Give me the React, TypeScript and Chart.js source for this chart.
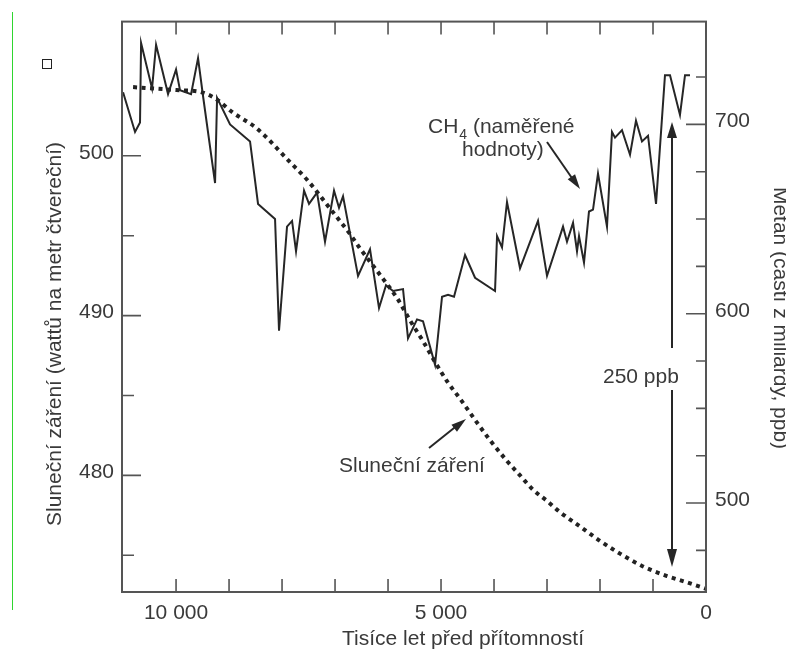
import React, { useEffect, useRef } from "react";
import { Chart, registerables } from "chart.js";

Chart.register(...registerables);

// Methane (CH4) measured values, ppb, by years before present
const ch4Years = [11000, 10774, 10680, 10660, 10453, 10377, 10151, 10000, 9925, 9717, 9585, 9491, 9264, 9226, 8981, 8604, 8453, 8132, 8057, 7906, 7811, 7736, 7585, 7491, 7340, 7189, 7019, 6925, 6849, 6566, 6340, 6170, 6038, 5906, 5717, 5623, 5453, 5340, 5113, 4981, 4868, 4755, 4547, 4358, 3981, 3943, 3849, 3755, 3509, 3170, 3000, 2698, 2623, 2509, 2434, 2396, 2302, 2208, 2132, 2038, 1868, 1774, 1717, 1585, 1434, 1321, 1208, 1094, 943, 774, 679, 491, 396, 302];
const ch4Values = [717, 696, 701, 743, 719, 742, 716, 729, 718, 716, 735, 715, 669, 714, 700, 691, 658, 650, 591, 646, 649, 633, 665, 658, 664, 638, 665, 656, 662, 620, 634, 603, 615, 612, 613, 587, 597, 596, 573, 609, 610, 609, 631, 619, 612, 641, 635, 659, 624, 649, 620, 646, 638, 648, 633, 641, 627, 654, 655, 674, 646, 696, 693, 697, 684, 702, 691, 694, 658, 726, 726, 705, 726, 726];

// Solar radiation, W/m2
const solarYears = [10811, 9925, 9547, 9264, 8925, 8472, 7849, 7528, 7094, 6717, 6528, 6094, 5830, 5585, 5340, 5113, 4868, 4642, 4321, 4075, 3755, 3509, 3264, 3000, 2755, 2377, 2000, 1623, 1189, 736, 358, 0];
const solarValues = [504.3, 504.1, 504.0, 503.6, 502.7, 501.7, 499.6, 498.5, 496.7, 495.1, 494.2, 492.3, 491.1, 489.7, 488.4, 487.1, 485.8, 484.8, 483.3, 482.2, 480.9, 480.0, 479.1, 478.4, 477.7, 476.8, 475.9, 475.1, 474.3, 473.7, 473.3, 472.9];

// Ticks
const xLabelTicks = [10000, 5000, 0];
const xMarkTicks = [0, 1000, 2000, 3000, 4000, 5000, 6000, 7000, 8000, 9000, 10000];
const leftLabelTicks = [480, 490, 500];
const leftMinorTicks = [475, 485, 495];
const rightLabelTicks = [500, 600, 700];
const rightMinorTicks = [475, 525, 550, 575, 625, 650, 675, 725];

const TEXT = "#3a3a3a";
const LINE = "#262626";
const AXIS = "#555555";
const FONT_FAMILY = '"Liberation Sans", Arial, sans-serif';

function fmt(v: number): string {
  const s = String(Math.round(v));
  return s.replace(/\B(?=(\d{3})+(?!\d))/g, " ");
}

function arrowHead(ctx: CanvasRenderingContext2D, x1: number, y1: number, x2: number, y2: number, len: number, half: number) {
  const ang = Math.atan2(y2 - y1, x2 - x1);
  const bx = x2 - len * Math.cos(ang);
  const by = y2 - len * Math.sin(ang);
  ctx.beginPath();
  ctx.moveTo(x2, y2);
  ctx.lineTo(bx + half * Math.sin(ang), by - half * Math.cos(ang));
  ctx.lineTo(bx - half * Math.sin(ang), by + half * Math.cos(ang));
  ctx.closePath();
  ctx.fill();
}

const overlayPlugin = {
  id: "overlay",
  afterDatasetsDraw(chart: any) {
    const { ctx, chartArea: a, scales } = chart;
    const x = scales.x;
    const yL = scales.yL;
    const yR = scales.yR;
    ctx.save();
    // frame
    ctx.strokeStyle = AXIS;
    ctx.lineWidth = 2;
    ctx.strokeRect(a.left, a.top, a.right - a.left, a.bottom - a.top);
    // inward ticks
    ctx.lineWidth = 1.6;
    ctx.beginPath();
    xMarkTicks.forEach((v) => {
      const px = x.getPixelForValue(v);
      ctx.moveTo(px, a.bottom);
      ctx.lineTo(px, a.bottom - 13);
      ctx.moveTo(px, a.top);
      ctx.lineTo(px, a.top + 13);
    });
    leftLabelTicks.forEach((v) => {
      const py = yL.getPixelForValue(v);
      ctx.moveTo(a.left, py);
      ctx.lineTo(a.left + 19, py);
    });
    leftMinorTicks.forEach((v) => {
      const py = yL.getPixelForValue(v);
      ctx.moveTo(a.left, py);
      ctx.lineTo(a.left + 12, py);
    });
    rightLabelTicks.forEach((v) => {
      const py = yR.getPixelForValue(v);
      ctx.moveTo(a.right, py);
      ctx.lineTo(a.right - 20, py);
    });
    rightMinorTicks.forEach((v) => {
      const py = yR.getPixelForValue(v);
      ctx.moveTo(a.right, py);
      ctx.lineTo(a.right - 10, py);
    });
    ctx.stroke();

    // titles
    ctx.fillStyle = TEXT;
    ctx.font = `21px ${FONT_FAMILY}`;
    ctx.textAlign = "center";
    ctx.textBaseline = "alphabetic";
    ctx.fillText("Tisíce let před přítomností", 463, 645);

    ctx.save();
    ctx.translate(61, 334);
    ctx.rotate(-Math.PI / 2);
    ctx.fillText("Sluneční záření (wattů na metr čtvereční)", 0, 0);
    ctx.restore();

    ctx.save();
    ctx.translate(774, 318);
    ctx.rotate(Math.PI / 2);
    ctx.fillText("Metan (částí z miliardy, ppb)", 0, 0);
    ctx.restore();

    // annotations
    ctx.textAlign = "left";
    let tx = 428;
    ctx.fillText("CH", tx, 133);
    tx += ctx.measureText("CH").width;
    ctx.font = `14px ${FONT_FAMILY}`;
    ctx.fillText("4", tx + 1, 139);
    tx += ctx.measureText("4").width + 1;
    ctx.font = `21px ${FONT_FAMILY}`;
    ctx.fillText(" (naměřené", tx, 133);
    ctx.fillText("hodnoty)", 462, 156);

    ctx.fillText("Sluneční záření", 339, 472);
    ctx.fillText("250 ppb", 603, 383);

    ctx.strokeStyle = LINE;
    ctx.fillStyle = LINE;
    ctx.lineWidth = 2;
    // CH4 arrow
    ctx.beginPath();
    ctx.moveTo(547, 142);
    ctx.lineTo(574, 181);
    ctx.stroke();
    arrowHead(ctx, 547, 142, 580, 189, 15, 4.5);
    // solar arrow
    ctx.beginPath();
    ctx.moveTo(429, 448);
    ctx.lineTo(459, 424);
    ctx.stroke();
    arrowHead(ctx, 429, 448, 466, 419, 15, 4.5);
    // 250 ppb arrow
    ctx.beginPath();
    ctx.moveTo(672, 134);
    ctx.lineTo(672, 348);
    ctx.moveTo(672, 390);
    ctx.lineTo(672, 555);
    ctx.stroke();
    arrowHead(ctx, 672, 200, 672, 122, 16, 5);
    arrowHead(ctx, 672, 500, 672, 567, 18, 5);
    ctx.restore();
  },
};

export default function App() {
  const ref = useRef<HTMLCanvasElement>(null);

  useEffect(() => {
    const canvas = ref.current;
    if (!canvas) return;
    const tickFont = { family: FONT_FAMILY, size: 21 };
    const chart = new Chart(canvas, {
      type: "line",
      data: {
        datasets: [
          {
            label: "CH4",
            data: ch4Years.map((yr, i) => ({ x: yr, y: ch4Values[i] })),
            yAxisID: "yR",
            borderColor: LINE,
            borderWidth: 2,
            pointRadius: 0,
            tension: 0,
            fill: false,
          },
          {
            label: "Sluneční záření",
            data: solarYears.map((yr, i) => ({ x: yr, y: solarValues[i] })),
            yAxisID: "yL",
            borderColor: "#222222",
            borderWidth: 4,
            borderDash: [4, 4.5],
            borderCapStyle: "butt",
            pointRadius: 0,
            cubicInterpolationMode: "monotone",
            fill: false,
          },
        ],
      },
      options: {
        responsive: false,
        animation: false,
        devicePixelRatio: 1,
        layout: { padding: { top: 15, left: 0, right: 0, bottom: 0 } },
        plugins: {
          legend: { display: false },
          tooltip: { enabled: false },
        },
        scales: {
          x: {
            type: "linear",
            position: "bottom",
            reverse: true,
            min: 0,
            max: 11020,
            grid: { display: false, drawTicks: false },
            border: { display: false },
            afterBuildTicks: (s: any) => {
              s.ticks = xLabelTicks.map((v) => ({ value: v }));
            },
            afterFit: (s: any) => {
              s.height = 70;
            },
            ticks: {
              font: tickFont,
              color: TEXT,
              padding: 9,
              autoSkip: false,
              maxRotation: 0,
              callback: (v: any) => fmt(Number(v)),
            },
          },
          yL: {
            type: "linear",
            position: "left",
            min: 472.7,
            max: 508.4,
            grid: { display: false, drawTicks: false },
            border: { display: false },
            afterBuildTicks: (s: any) => {
              s.ticks = leftLabelTicks.map((v) => ({ value: v }));
            },
            afterFit: (s: any) => {
              s.width = 122;
            },
            ticks: {
              font: tickFont,
              color: TEXT,
              padding: 8,
              labelOffset: -3,
              autoSkip: false,
              callback: (v: any) => String(v),
            },
          },
          yR: {
            type: "linear",
            position: "right",
            min: 453,
            max: 754.3,
            grid: { display: false, drawTicks: false },
            border: { display: false },
            afterBuildTicks: (s: any) => {
              s.ticks = rightLabelTicks.map((v) => ({ value: v }));
            },
            afterFit: (s: any) => {
              s.width = 80;
            },
            ticks: {
              font: tickFont,
              color: TEXT,
              padding: 9,
              labelOffset: -3,
              autoSkip: false,
              callback: (v: any) => String(v),
            },
          },
        },
      },
      plugins: [overlayPlugin],
    } as any);
    return () => chart.destroy();
  }, []);

  return (
    <div style={{ position: "absolute", left: 0, top: 0, width: 786, height: 662, background: "#fff" }}>
      <canvas ref={ref} width={786} height={662} style={{ position: "absolute", left: 0, top: 0, width: 786, height: 662 }} />
      <div style={{ position: "absolute", left: 12, top: 12, width: 1, height: 598, background: "#2fd62f" }} />
      <div style={{ position: "absolute", left: 42, top: 59, width: 8, height: 8, border: "1px solid #222" }} />
    </div>
  );
}
